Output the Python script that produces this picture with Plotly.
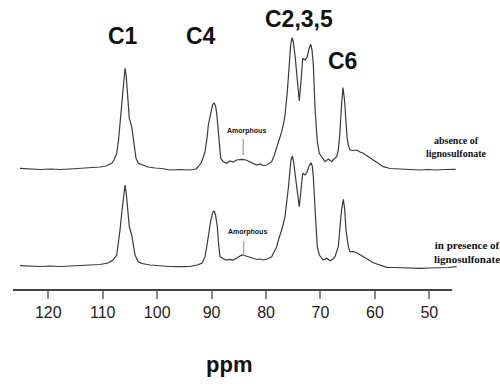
import plotly.graph_objects as go

# ---- data (ppm, relative intensity) ----
ppm_absence = [125.2, 123.36, 121.52, 119.69, 117.85, 116.01, 114.18, 112.34, 110.50, 109.40,
               108.35, 107.93, 107.43, 107.10, 106.83, 106.51, 106.22, 105.91, 105.69, 105.49,
               105.12, 104.68, 104.25, 103.89, 103.47, 102.79, 101.68, 100.40, 99.13, 97.66,
               95.82, 93.98, 92.87, 92.50, 91.95, 91.58, 91.21, 90.84, 90.60, 90.16,
               89.83, 89.56, 89.28, 89.06, 88.77, 88.55, 88.33, 87.85, 87.22, 86.62,
               86.07, 85.39, 84.47, 83.68, 82.94, 82.39, 81.71, 81.11, 80.55, 79.87,
               78.96, 78.53, 78.04, 77.62, 77.12, 76.79, 76.51, 76.09, 75.72, 75.47,
               75.23, 74.99, 74.68, 74.25, 73.89, 73.58, 73.26, 72.84, 72.42, 72.11,
               71.79, 71.55, 71.31, 71.00, 70.58, 70.21, 69.77, 69.17, 68.56, 67.93,
               67.51, 67.01, 66.72, 66.41, 66.13, 65.86, 65.58, 65.31, 65.12, 64.88,
               64.57, 64.02, 63.34, 62.73, 62.13, 61.26, 60.29, 59.43, 58.45, 57.22,
               55.99, 54.47, 53.18, 51.71, 50.24, 48.77, 47.12, 45.15]
int_absence = [1.7, 1.0, 0.5, 1.0, 0.5, 1.0, 1.5, 2.0, 3.0, 4.0,
               6.7, 10.0, 16.7, 30.0, 48.3, 67.0, 85.0, 101.7, 94.0, 78.3,
               51.7, 43.3, 28.3, 11.7, 6.7, 5.0, 3.0, 2.0, 1.5, 0.0,
               0.5, 0.0, 1.0, 3.0, 7.0, 12.0, 18.3, 32.0, 45.0, 56.7,
               65.0, 67.3, 64.0, 56.7, 35.0, 20.0, 11.7, 8.3, 6.7, 9.0,
               8.0, 10.0, 10.7, 10.0, 8.3, 6.5, 5.0, 6.0, 4.5, 5.0,
               8.3, 14.0, 21.7, 30.0, 38.3, 46.0, 55.0, 78.3, 105.0, 125.0,
               132.3, 128.0, 115.0, 88.3, 69.0, 88.3, 111.7, 110.0, 113.3, 121.0,
               125.7, 120.0, 105.0, 61.7, 28.3, 16.7, 13.3, 8.3, 11.0, 8.3,
               11.0, 13.3, 20.0, 38.3, 65.0, 82.5, 70.0, 45.0, 33.0, 25.0,
               20.0, 19.5, 20.0, 18.0, 16.7, 13.5, 10.0, 6.5, 3.3, 1.5,
               1.0, 0.5, 0.5, 0.0, 0.5, 0.0, 0.5, 0.7]

ppm_presence = [125.2, 123.36, 121.52, 119.69, 117.85, 116.01, 114.18, 112.34, 110.50, 109.03,
                108.11, 107.43, 107.10, 106.83, 106.55, 106.33, 106.09, 105.91, 105.69, 105.49,
                105.12, 104.68, 104.35, 104.07, 103.47, 102.79, 101.32, 99.48, 97.66, 95.82,
                93.98, 92.68, 91.82, 91.49, 91.21, 90.84, 90.60, 90.20, 89.83, 89.56,
                89.28, 88.95, 88.70, 88.46, 87.96, 87.35, 86.62, 86.07, 85.39, 84.47,
                83.68, 82.94, 82.34, 81.66, 81.11, 80.50, 79.82, 78.96, 78.53, 78.04,
                77.62, 77.12, 76.51, 76.09, 75.84, 75.60, 75.41, 75.17, 74.95, 74.68,
                74.25, 73.89, 73.58, 73.26, 72.84, 72.42, 72.11, 71.74, 71.51, 71.31,
                70.95, 70.58, 70.21, 69.48, 68.85, 68.25, 67.70, 67.33, 66.72, 66.41,
                66.13, 65.80, 65.54, 65.31, 64.88, 64.57, 63.97, 63.34, 62.73, 62.13,
                61.26, 60.29, 59.06, 57.83, 56.31, 54.47, 51.71, 49.88, 48.04, 46.57,
                44.98]
int_presence = [1.3, 1.0, 0.5, 1.0, 0.5, 1.0, 1.5, 2.0, 2.5, 4.0,
                7.0, 12.0, 24.0, 37.0, 52.0, 63.7, 75.0, 82.0, 74.0, 60.3,
                40.3, 32.0, 20.0, 12.0, 5.3, 3.5, 2.0, 1.0, 0.5, 0.3,
                0.5, 2.0, 3.7, 7.0, 10.3, 22.0, 32.0, 45.0, 54.0, 56.3,
                52.0, 40.3, 22.0, 10.3, 8.7, 7.0, 7.7, 7.0, 8.7, 12.0,
                11.0, 9.5, 8.7, 7.5, 8.0, 7.0, 8.0, 10.3, 15.0, 20.3,
                29.0, 37.0, 50.3, 67.0, 82.0, 97.0, 107.0, 111.0, 106.0, 93.7,
                72.0, 60.3, 77.0, 93.7, 92.0, 95.3, 101.0, 104.3, 101.0, 90.3,
                53.7, 20.3, 12.0, 7.0, 8.7, 6.3, 8.0, 10.3, 20.3, 40.3,
                57.0, 67.7, 57.0, 37.0, 20.3, 15.3, 15.3, 14.3, 12.5, 10.3,
                7.5, 4.3, 2.0, -0.3, -0.5, -1.0, -1.3, -1.0, -1.0, -0.5,
                0.3]

tick_vals = [120, 110, 100, 90, 80, 70, 60, 50]
tick_text = ["120", "110", "100", "90", "80", "70", "60", "50"]

peak_labels = ["C1", "C4", "C2,3,5", "C6"]
amorphous_ppm = 84.2
axis_left, axis_right = 126.49, 45.83

line_color = "#3a3a3a"

fig = go.Figure()
fig.add_trace(go.Scatter(x=ppm_absence, y=int_absence, mode="lines", yaxis="y2",
                         line=dict(color=line_color, width=1.2), showlegend=False,
                         hoverinfo="skip"))
fig.add_trace(go.Scatter(x=ppm_presence, y=int_presence, mode="lines", yaxis="y",
                         line=dict(color=line_color, width=1.2), showlegend=False,
                         hoverinfo="skip"))

fig.update_layout(
    width=500, height=390,
    margin=dict(l=13, r=42, t=0, b=100),
    paper_bgcolor="white", plot_bgcolor="white",
    font=dict(family="Liberation Sans, Arial, sans-serif", color="#222"),
    xaxis=dict(range=[axis_left, 44.73], tickvals=tick_vals, ticktext=tick_text,
               ticks="outside", ticklen=8, tickwidth=1.5, tickcolor="#888",
               showgrid=False, zeroline=False, showline=False,
               tickfont=dict(size=16, color="#222")),
    yaxis=dict(range=[-23, 267], visible=False, fixedrange=True),
    yaxis2=dict(range=[-120, 170], visible=False, overlaying="y"),
    showlegend=False,
)

# axis line
fig.add_shape(type="line", xref="x", yref="paper", x0=axis_left, x1=axis_right,
              y0=0, y1=0, line=dict(color="#444", width=2))

# amorphous markers
fig.add_shape(type="line", xref="x", yref="y2", x0=amorphous_ppm, x1=amorphous_ppm,
              y0=15, y1=31, line=dict(color="#888", width=1))
fig.add_shape(type="line", xref="x", yref="y", x0=amorphous_ppm - 0.1, x1=amorphous_ppm - 0.1,
              y0=11, y1=26, line=dict(color="#888", width=1))

def px_ann(text, x, y, size, bold=True, family="Liberation Sans, Arial, sans-serif", align="center"):
    fig.add_annotation(text=f"<b>{text}</b>" if bold else text, xref="paper", yref="paper",
                       x=(x - 13) / 445, y=(290 - y) / 290, showarrow=False,
                       xanchor="center", yanchor="middle", align=align,
                       font=dict(size=size, family=family, color="#111"))

# peak labels
px_ann(peak_labels[0], 122.7, 36, 23)
px_ann(peak_labels[1], 201.3, 36, 23)
px_ann(peak_labels[2], 298.7, 19, 23)
px_ann(peak_labels[3], 342.8, 61, 23)

px_ann("Amorphous", 246, 131, 7)
px_ann("Amorphous", 247, 232, 7)

px_ann("absence of<br>lignosulfonate", 456, 147, 10,
       family="Liberation Serif, Times New Roman, serif")
px_ann("in presence of<br>lignosulfonate", 467, 252, 11,
       family="Liberation Serif, Times New Roman, serif")

px_ann("ppm", 229, 364, 22)

fig.write_html("out.html", config={"displayModeBar": False},
               post_script="document.body.style.margin='0px';")
